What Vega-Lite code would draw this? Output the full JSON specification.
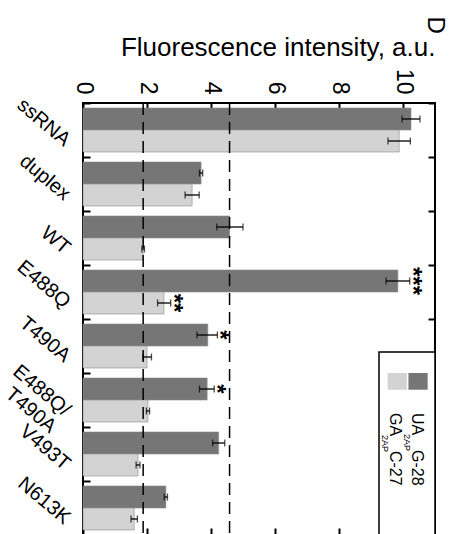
{
  "$schema": "https://vega.github.io/schema/vega-lite/v6.json",
  "width": 352,
  "height": 432,
  "autosize": {"type": "none"},
  "padding": {"left": 83, "top": 103, "right": 17, "bottom": 0},
  "background": "white",
  "title": {"text": "D", "angle": 90, "anchor": "end", "frame": "group", "align": "center", "baseline": "middle", "fontSize": 24, "fontWeight": "normal", "font": "Liberation Sans", "color": "black", "offset": -8},
  "config": {
    "font": "Liberation Sans",
    "view": {"stroke": "black", "strokeWidth": 2},
    "axis": {"grid": false, "domain": false, "tickColor": "black", "tickWidth": 2, "tickSize": -7, "labelColor": "black", "titleColor": "black", "labelFlush": false, "labelOverlap": false, "labelBound": false, "zindex": 1}
  },
  "datasets": {
    "bars": [
      {"cat": "ssRNA", "series": "UA2APG-28", "v": 10.25, "lo": 9.97, "hi": 10.53, "sig": ""},
      {"cat": "ssRNA", "series": "GA2APC-27", "v": 9.88, "lo": 9.53, "hi": 10.23, "sig": ""},
      {"cat": "duplex", "series": "UA2APG-28", "v": 3.69, "lo": 3.64, "hi": 3.74, "sig": ""},
      {"cat": "duplex", "series": "GA2APC-27", "v": 3.41, "lo": 3.19, "hi": 3.63, "sig": ""},
      {"cat": "WT", "series": "UA2APG-28", "v": 4.58, "lo": 4.18, "hi": 5.0, "sig": ""},
      {"cat": "WT", "series": "GA2APC-27", "v": 1.88, "lo": 1.84, "hi": 1.92, "sig": ""},
      {"cat": "E488Q", "series": "UA2APG-28", "v": 9.84, "lo": 9.47, "hi": 10.21, "sig": "***"},
      {"cat": "E488Q", "series": "GA2APC-27", "v": 2.53, "lo": 2.33, "hi": 2.74, "sig": "**"},
      {"cat": "T490A", "series": "UA2APG-28", "v": 3.9, "lo": 3.56, "hi": 4.2, "sig": "*"},
      {"cat": "T490A", "series": "GA2APC-27", "v": 2.0, "lo": 1.87, "hi": 2.14, "sig": ""},
      {"cat": "E488Q/T490A", "series": "UA2APG-28", "v": 3.88, "lo": 3.64, "hi": 4.1, "sig": "*"},
      {"cat": "E488Q/T490A", "series": "GA2APC-27", "v": 2.03, "lo": 1.98, "hi": 2.08, "sig": ""},
      {"cat": "V493T", "series": "UA2APG-28", "v": 4.24, "lo": 4.05, "hi": 4.43, "sig": ""},
      {"cat": "V493T", "series": "GA2APC-27", "v": 1.72, "lo": 1.66, "hi": 1.78, "sig": ""},
      {"cat": "N613K", "series": "UA2APG-28", "v": 2.59, "lo": 2.54, "hi": 2.64, "sig": ""},
      {"cat": "N613K", "series": "GA2APC-27", "v": 1.6, "lo": 1.5, "hi": 1.7, "sig": ""}
    ]
  },
  "layer": [
    {
      "data": {"name": "bars"},
      "mark": {"type": "bar", "stroke": "#8c8c8c", "strokeWidth": 0.6},
      "encoding": {
        "x": {"field": "v", "type": "quantitative", "scale": {"domain": [0, 11], "nice": false, "zero": true},
          "axis": {"orient": "top", "values": [0, 2, 4, 6, 8, 10], "tickSize": -6, "title": "Fluorescence intensity, a.u.", "titleFontSize": 26, "titleFontWeight": "normal", "titleAnchor": "end", "titlePadding": 8, "labelAngle": 90, "labelAlign": "right", "labelBaseline": "middle", "labelFontSize": 23, "labelPadding": 15}},
        "y": {"field": "cat", "type": "nominal", "sort": ["ssRNA", "duplex", "WT", "E488Q", "T490A", "E488Q/T490A", "V493T", "N613K"], "scale": {"paddingInner": 0.185, "paddingOuter": 0.0925},
          "axis": {"orient": "left", "title": null, "tickOffset": -27, "labelOffset": 39, "labelAngle": 40, "labelAlign": "right", "labelBaseline": "middle", "labelFontSize": 20, "labelPadding": 23, "labelExpr": "datum.value == 'E488Q/T490A' ? ['E488Q/', 'T490A'] : datum.value"}},
        "yOffset": {"field": "series", "type": "nominal", "sort": ["UA2APG-28", "GA2APC-27"]},
        "color": {"field": "series", "type": "nominal", "scale": {"domain": ["UA2APG-28", "GA2APC-27"], "range": ["#767676", "#d3d3d3"]}, "legend": null}
      }
    },
    {
      "data": {"name": "bars"},
      "mark": {"type": "rule", "color": "black", "strokeWidth": 1.3},
      "encoding": {
        "x": {"field": "lo", "type": "quantitative", "scale": {"domain": [0, 11], "nice": false, "zero": true},
          "axis": {"orient": "bottom", "values": [0, 2, 4, 6, 8, 10], "labels": false, "title": null}},
        "x2": {"field": "hi"},
        "y": {"field": "cat", "type": "nominal", "sort": ["ssRNA", "duplex", "WT", "E488Q", "T490A", "E488Q/T490A", "V493T", "N613K"], "scale": {"paddingInner": 0.185, "paddingOuter": 0.0925},
          "axis": {"orient": "right", "title": null, "labels": false, "tickOffset": -27}},
        "yOffset": {"field": "series", "type": "nominal", "sort": ["UA2APG-28", "GA2APC-27"]}
      }
    },
    {
      "data": {"name": "bars"},
      "mark": {"type": "tick", "color": "black", "thickness": 1.3, "size": 7},
      "encoding": {
        "x": {"field": "lo", "type": "quantitative", "scale": {"domain": [0, 11], "nice": false, "zero": true}, "axis": null},
        "y": {"field": "cat", "type": "nominal", "sort": ["ssRNA", "duplex", "WT", "E488Q", "T490A", "E488Q/T490A", "V493T", "N613K"], "scale": {"paddingInner": 0.185, "paddingOuter": 0.0925}, "axis": null},
        "yOffset": {"field": "series", "type": "nominal", "sort": ["UA2APG-28", "GA2APC-27"]}
      }
    },
    {
      "data": {"name": "bars"},
      "mark": {"type": "tick", "color": "black", "thickness": 1.3, "size": 7},
      "encoding": {
        "x": {"field": "hi", "type": "quantitative", "scale": {"domain": [0, 11], "nice": false, "zero": true}, "axis": null},
        "y": {"field": "cat", "type": "nominal", "sort": ["ssRNA", "duplex", "WT", "E488Q", "T490A", "E488Q/T490A", "V493T", "N613K"], "scale": {"paddingInner": 0.185, "paddingOuter": 0.0925}, "axis": null},
        "yOffset": {"field": "series", "type": "nominal", "sort": ["UA2APG-28", "GA2APC-27"]}
      }
    },
    {
      "data": {"name": "bars"},
      "mark": {"type": "text", "angle": 90, "align": "center", "baseline": "middle", "fontSize": 24, "fontWeight": "bold", "dy": -2, "color": "black"},
      "encoding": {
        "x": {"field": "hi", "type": "quantitative", "scale": {"domain": [0, 11], "nice": false, "zero": true}, "axis": null},
        "y": {"field": "cat", "type": "nominal", "sort": ["ssRNA", "duplex", "WT", "E488Q", "T490A", "E488Q/T490A", "V493T", "N613K"], "scale": {"paddingInner": 0.185, "paddingOuter": 0.0925}, "axis": null},
        "yOffset": {"field": "series", "type": "nominal", "sort": ["UA2APG-28", "GA2APC-27"]},
        "text": {"field": "sig"}
      }
    },
    {
      "data": {"name": "bars"},
      "transform": [{"filter": "datum.cat == 'WT'"}],
      "mark": {"type": "rule", "strokeDash": [12, 7], "strokeWidth": 1.5, "color": "black"},
      "encoding": {
        "x": {"field": "v", "type": "quantitative", "scale": {"domain": [0, 11], "nice": false, "zero": true}, "axis": null}
      }
    },
    {
      "data": {"values": [{}]},
      "layer": [
        {
          "mark": {"type": "rect", "fill": "white", "stroke": "black", "strokeWidth": 1.5},
          "encoding": {
            "x": {"datum": 9.25, "type": "quantitative", "scale": {"domain": [0, 11], "nice": false, "zero": true}, "axis": null},
            "x2": {"datum": 11},
            "y": {"datum": 4.61, "type": "quantitative", "scale": {"domain": [0, 8], "reverse": true, "nice": false, "zero": false}, "axis": null},
            "y2": {"datum": 8}
          }
        },
        {
          "mark": {"type": "rect", "fill": "#767676"},
          "encoding": {
            "x": {"datum": 10.17, "type": "quantitative", "axis": null},
            "x2": {"datum": 10.77},
            "y": {"datum": 5.0, "type": "quantitative", "axis": null},
            "y2": {"datum": 5.31}
          }
        },
        {
          "mark": {"type": "rect", "fill": "#d3d3d3"},
          "encoding": {
            "x": {"datum": 9.52, "type": "quantitative", "axis": null},
            "x2": {"datum": 10.12},
            "y": {"datum": 5.0, "type": "quantitative", "axis": null},
            "y2": {"datum": 5.31}
          }
        },
        {
          "mark": {"type": "text", "text": "UA", "angle": 90, "align": "left", "baseline": "middle", "fontSize": 16, "color": "black"},
          "encoding": {"x": {"datum": 10.43, "type": "quantitative", "axis": null}, "y": {"datum": 5.74, "type": "quantitative", "axis": null}}
        },
        {
          "mark": {"type": "text", "text": "2AP", "angle": 90, "align": "left", "baseline": "middle", "fontSize": 9, "dx": 21, "dy": 10, "color": "black"},
          "encoding": {"x": {"datum": 10.43, "type": "quantitative", "axis": null}, "y": {"datum": 5.74, "type": "quantitative", "axis": null}}
        },
        {
          "mark": {"type": "text", "text": "G-28", "angle": 90, "align": "left", "baseline": "middle", "fontSize": 16, "dx": 37, "color": "black"},
          "encoding": {"x": {"datum": 10.43, "type": "quantitative", "axis": null}, "y": {"datum": 5.74, "type": "quantitative", "axis": null}}
        },
        {
          "mark": {"type": "text", "text": "GA", "angle": 90, "align": "left", "baseline": "middle", "fontSize": 16, "color": "black"},
          "encoding": {"x": {"datum": 9.76, "type": "quantitative", "axis": null}, "y": {"datum": 5.74, "type": "quantitative", "axis": null}}
        },
        {
          "mark": {"type": "text", "text": "2AP", "angle": 90, "align": "left", "baseline": "middle", "fontSize": 9, "dx": 22, "dy": 10, "color": "black"},
          "encoding": {"x": {"datum": 9.76, "type": "quantitative", "axis": null}, "y": {"datum": 5.74, "type": "quantitative", "axis": null}}
        },
        {
          "mark": {"type": "text", "text": "C-27", "angle": 90, "align": "left", "baseline": "middle", "fontSize": 16, "dx": 38, "color": "black"},
          "encoding": {"x": {"datum": 9.76, "type": "quantitative", "axis": null}, "y": {"datum": 5.74, "type": "quantitative", "axis": null}}
        }
      ]
    }
  ],
  "resolve": {"scale": {"y": "independent", "yOffset": "independent"}, "axis": {"x": "independent", "y": "independent"}}
}
